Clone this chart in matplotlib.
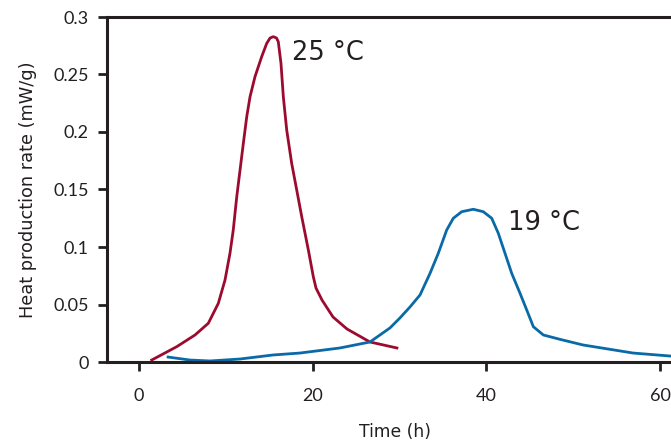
import matplotlib
matplotlib.use("Agg")
import matplotlib.pyplot as plt

# 25 °C curve (time h, heat production rate mW/g)
t25 = [1.48, 4.36, 6.47, 8.0, 9.15, 9.92, 10.49, 10.87, 11.27, 11.65, 12.03, 12.42,
       12.8, 13.37, 14.14, 14.72, 15.1, 15.48, 15.85, 16.05, 16.36, 16.63, 17.02,
       17.59, 18.17, 18.75, 19.51, 20.08, 20.39, 21.08, 22.35, 23.96, 26.6, 29.7]
r25 = [0.0017, 0.0133, 0.0235, 0.0337, 0.051, 0.0713, 0.0945, 0.1148, 0.1437, 0.167,
       0.1902, 0.2133, 0.2307, 0.2481, 0.2655, 0.2771, 0.2817, 0.2829, 0.2817, 0.2785,
       0.2597, 0.2307, 0.2017, 0.1728, 0.1496, 0.1263, 0.0974, 0.0742, 0.0643, 0.0539,
       0.0391, 0.0287, 0.0174, 0.0122]

# 19 °C curve
t19 = [3.37, 5.89, 8.19, 11.65, 15.44, 18.55, 23.15, 26.6, 28.9, 30.05, 31.2, 32.36,
       33.51, 34.46, 35.43, 36.19, 37.16, 38.49, 39.64, 40.61, 41.37, 42.14, 42.91,
       43.87, 44.64, 45.4, 46.55, 48.47, 51.12, 56.87, 61.13]
r19 = [0.0043, 0.0017, 0.0009, 0.0026, 0.0061, 0.0078, 0.0122, 0.0174, 0.0296, 0.0383,
       0.0478, 0.0583, 0.0771, 0.0945, 0.1148, 0.125, 0.1307, 0.1328, 0.1307, 0.125,
       0.1119, 0.0945, 0.0771, 0.0597, 0.0452, 0.0307, 0.0235, 0.0197, 0.0148, 0.0078,
       0.0052]

x_ticks = [0, 20, 40, 60]
y_ticks = [0, 0.05, 0.1, 0.15, 0.2, 0.25, 0.3]
y_ticklabels = ["0", "0.05", "0.1", "0.15", "0.2", "0.25", "0.3"]

RED = "#9c0a30"
BLUE = "#0a6aa8"
TXT = "#231f20"

plt.rcParams['font.family'] = ['DejaVu Sans']

fig = plt.figure(figsize=(6.71, 4.44), dpi=100)
ax = fig.add_axes([107/671, 1-362/444, 1-107/671, (362-17)/444])

ax.plot(t25, r25, color=RED, lw=2.0, solid_joinstyle='round')
ax.plot(t19, r19, color=BLUE, lw=2.0, solid_joinstyle='round')

ax.text(17.6, 0.269, "25 °C", fontsize=18.5, color=TXT, ha='left', va='center')
ax.text(42.5, 0.121, "19 °C", fontsize=18.5, color=TXT, ha='left', va='center')

ax.set_xlim(-3.66, 61.24)
ax.set_ylim(0, 0.3)
ax.set_xticks(x_ticks)
ax.set_yticks(y_ticks)
ax.set_yticklabels(y_ticklabels)

for s in ['left', 'top', 'bottom']:
    ax.spines[s].set_linewidth(2.2)
    ax.spines[s].set_color(TXT)
ax.spines['right'].set_visible(False)

ax.tick_params(axis='both', direction='out', length=6.5, width=2.0, color=TXT,
               labelsize=13, labelcolor=TXT)
ax.tick_params(axis='y', pad=6.5)
ax.tick_params(axis='x', pad=12.5)
for lab in ax.get_xticklabels() + ax.get_yticklabels():
    lab.set_family(['Lato', 'DejaVu Sans'])

ax.set_xlabel("Time (h)", fontsize=12.3, color=TXT)
ax.set_ylabel("Heat production rate (mW/g)", fontsize=12.8, color=TXT)
ax.xaxis.set_label_coords(0.5115, -0.203)
ax.yaxis.set_label_coords(-0.140, 0.5)
ax.xaxis.label.set_va('center')
ax.yaxis.label.set_va('center')

fig.savefig("out.png", dpi=100)
